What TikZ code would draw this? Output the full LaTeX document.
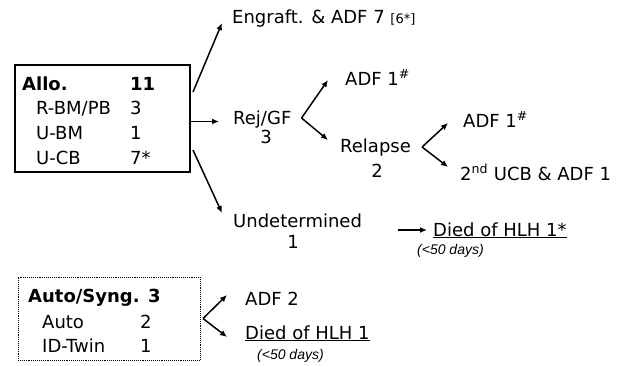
\documentclass[tikz,border=0pt]{standalone}
\usepackage{fontspec}
\setmainfont{DejaVu Sans}
\newfontfamily\notefont{Liberation Sans}
\usetikzlibrary{arrows.meta,calc}

\begin{document}
\begin{tikzpicture}[x=1pt,y=-1pt,>={Latex[length=7pt,width=6pt]},
		lbl/.style={inner sep=0pt,anchor=base west,font=\fontsize{18}{18}\selectfont},
		bf/.style={lbl,font=\fontsize{18}{18}\selectfont\bfseries},
		cnt/.style={lbl,anchor=base},
		days/.style={inner sep=0pt,anchor=base west,font=\notefont\itshape\fontsize{14}{14}\selectfont},
		arr/.style={->,line width=1.5pt}]
		\useasboundingbox (0,0) rectangle (633,365);
		%the Allo. box
		\node [draw,line width=1.8pt,outer sep=0pt,minimum width=175pt,minimum height=107pt,anchor=north west] (allo) at (15,65) {};
		\node [bf] (allo-h) at (22,90) {Allo.};
		\node [bf] (allo-n) at (130,90) {11};
		\foreach \lab/\num [count=\i] in {{R-BM/PB}/3, U-BM/1, U-CB/7*}
		{
			\node [lbl] (allo-l\i) at (36,89+25*\i) {\lab};
			\node [lbl] (allo-v\i) at (130,89+25*\i) {\num};
		}
		%outcomes
		\node [lbl] (engraft) at (232,23) {Engraft. \& ADF 7 {\fontsize{13}{13}\selectfont[6*]}};
		\node [lbl] (rejgf) at (233,124) {Rej/GF};
		\node [cnt] (rejgf-n) at (266,143) {3};
		\node [lbl] (adf1) at (345,85) {ADF 1\textsuperscript{\#}};
		\node [lbl] (relapse) at (340,152) {Relapse};
		\node [cnt] (relapse-n) at (377,177) {2};
		\node [lbl] (adf2) at (463,127) {ADF 1\textsuperscript{\#}};
		\node [lbl] (ucb) at (460,180) {2\textsuperscript{nd} UCB \& ADF 1};
		\node [lbl] (undet) at (233,227) {Undetermined};
		\node [cnt] (undet-n) at (293,248) {1};
		\node [lbl] (died1) at (433,236) {\underline{Died of HLH 1*}};
		\node [days] (days1) at (417,254) {(<50 days)};
		\draw [arr] ($(allo.north east)+(3,27)$) -- ($(engraft.base west)+(-10,0)$);
		\draw [arr] ($(allo.east)+(0,3)$) -- ($(allo.east -| rejgf.west)+(-14,3)$);
		\draw [arr] ($(allo.south east)+(3,-22)$) -- ($(undet.base west)+(-11,-14)$);
		\coordinate (fork1) at ($(rejgf.base east)+(10,-6)$);
		\draw [arr] (fork1) -- ($(adf1.base west)+(-17,-5)$);
		\draw [arr] (fork1) -- ($(relapse.base west)+(-12,-12)$);
		\coordinate (fork2) at ($(relapse.base east)+(11,-5)$);
		\draw [arr] (fork2) -- ($(adf2.base west)+(-15,-4)$);
		\draw [arr] (fork2) -- ($(ucb.base west)+(-12,-13)$);
		\draw [arr] ($(undet.base east)+(36,3)$) -- ($(died1.base west)+(-6,-6)$);
		%the Auto/Syng. box
		\node [draw,densely dotted,line width=0.9pt,outer sep=0pt,minimum width=182pt,minimum height=83pt,anchor=north west] (auto) at (18,277) {};
		\node [bf] (auto-h) at (28,302) {Auto/Syng. 3};
		\foreach \lab/\num [count=\i] in {Auto/2, ID-Twin/1}
		{
			\node [lbl] (auto-l\i) at (42,304+24*\i) {\lab};
			\node [lbl] (auto-v\i) at (140,304+24*\i) {\num};
		}
		\node [lbl] (adf3) at (245,305) {ADF 2};
		\node [lbl] (died2) at (245,339) {\underline{Died of HLH 1}};
		\node [days] (days2) at (257,359) {(<50 days)};
		\coordinate (fork3) at ($(auto.east)+(3,0)$);
		\draw [arr] (fork3) -- ($(adf3.base west)+(-18,-10)$);
		\draw [arr] (fork3) -- ($(died2.base west)+(-18,-2)$);
\end{tikzpicture}
\end{document}
